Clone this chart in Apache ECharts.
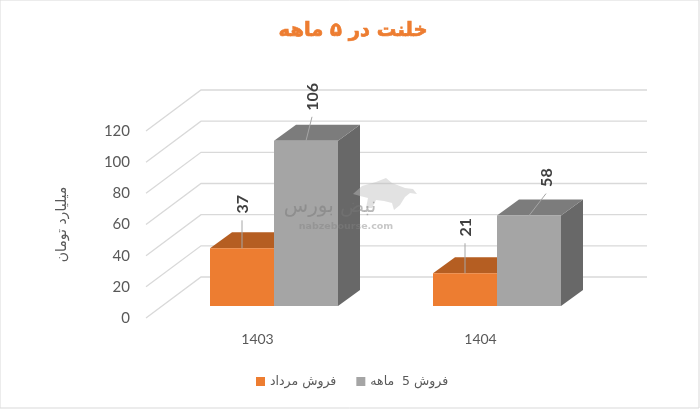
<!DOCTYPE html>
<html><head><meta charset="utf-8">
<style>html,body{margin:0;padding:0;background:#fff}#c{width:700px;height:409px}</style>
<script src="https://cdn.jsdelivr.net/npm/echarts@6/dist/echarts.min.js"></script>
</head><body><div id="c"></div>
<script>
const categories = ['1403', '1404'];
const monthSales = [37, 21];
const fiveMonthSales = [106, 58];
const gridTicks = [0, 20, 40, 60, 80, 100, 120];
const titleText = 'خلنت در ۵ ماهه';
const monthName = 'فروش مرداد';
const fiveMonthName = 'فروش 5  ماهه';
const yName = 'میلیارد تومان';

const BAR_W = 64, BAR_DX = 16, BAR_DY = -12, DEPTH_X = 22, DEPTH_Y = -16;
const WALL_X = 55, WALL_Y = -41, WALL_W = 501;
const LABEL_FONT = 'bold 16px Lato, sans-serif';

function barRender(side, colors, nudges) {
  return function (params, api) {
    const c = api.coord([api.value(0), api.value(1)]);
    const b = api.coord([api.value(0), 0]);
    const x0 = Math.round(c[0] + BAR_DX + (side < 0 ? -BAR_W : 0));
    const x1 = x0 + BAR_W;
    const yT = c[1] + BAR_DY, yB = b[1] + BAR_DY;
    const n = nudges[params.dataIndex];
    const mid = (x0 + x1) / 2;
    return {
      type: 'group',
      children: [
        { type: 'polygon', shape: { points: [[x1, yT], [x1 + DEPTH_X, yT + DEPTH_Y], [x1 + DEPTH_X, yB + DEPTH_Y], [x1, yB]] }, style: { fill: colors.side } },
        { type: 'polygon', shape: { points: [[x0, yT], [x0 + DEPTH_X, yT + DEPTH_Y], [x1 + DEPTH_X, yT + DEPTH_Y], [x1, yT]] }, style: { fill: colors.top } },
        { type: 'rect', shape: { x: x0, y: yT, width: BAR_W, height: yB - yT }, style: { fill: colors.front } },
        { type: 'line', shape: { x1: mid, y1: yT, x2: mid + n.lx, y2: yT + n.ly }, style: { stroke: '#a6a6a6', lineWidth: 1 } },
        { type: 'text', x: mid + n.tx, y: yT + n.ty, rotation: Math.PI / 2, style: { text: String(api.value(1)), font: LABEL_FONT, fill: '#404040', textAlign: 'center', textVerticalAlign: 'middle' } }
      ]
    };
  };
}

function wallRender(params, api) {
  const y = api.coord([0, api.value(0)])[1];
  const x = params.coordSys.x;
  return {
    type: 'polyline',
    shape: { points: [[x, y], [x + WALL_X, y + WALL_Y], [x + WALL_W, y + WALL_Y]] },
    style: { fill: null, stroke: '#d9d9d9', lineWidth: 1.3 },
    silent: true
  };
}

const chart = echarts.init(document.getElementById('c'), null, { renderer: 'canvas' });
chart.setOption({
  animation: false,
  backgroundColor: '#fff',
  title: { text: titleText, left: 348, textAlign: 'center', top: 16,
    textStyle: { color: '#ed7d31', fontSize: 19.5, fontWeight: 'bold', fontFamily: 'DejaVu Sans', textBorderColor: '#ed7d31', textBorderWidth: 0.7 } },
  grid: { left: 146, top: 131, width: 446, height: 187 },
  xAxis: { type: 'category', data: categories, axisLine: { show: false }, axisTick: { show: false },
    axisLabel: { color: '#595959', fontSize: 14, fontFamily: 'Lato', margin: 14 } },
  yAxis: { type: 'value', min: 0, max: 120, interval: 20, splitLine: { show: false }, axisLine: { show: false }, axisTick: { show: false },
    axisLabel: { color: '#595959', fontSize: 15, fontFamily: 'Lato', margin: 16 },
    name: yName, nameLocation: 'middle', nameRotate: 90, nameGap: 77,
    nameTextStyle: { color: '#595959', fontSize: 14, fontFamily: 'DejaVu Sans' } },
  legend: { data: [monthName, fiveMonthName], left: 251, top: 370, icon: 'rect', itemWidth: 9, itemHeight: 9, itemGap: 20,
    textStyle: { color: '#595959', fontSize: 12.5, fontFamily: 'DejaVu Sans' } },
  series: [
    { type: 'custom', name: 'wall', coordinateSystem: 'cartesian2d', data: gridTicks.map(v => [v]), encode: { y: 0 }, renderItem: wallRender, silent: true, z: 1 },
    { type: 'custom', name: monthName, coordinateSystem: 'cartesian2d', itemStyle: { color: '#ed7d31' }, z: 2,
      data: monthSales.map((v, i) => [i, v]), encode: { x: 0, y: 1 },
      renderItem: barRender(-1, { front: '#ed7d31', top: '#b55e22', side: '#a0521d' },
        [{ lx: 0, ly: -28, tx: 1, ty: -44 }, { lx: 0, ly: -30, tx: 1, ty: -46 }]) },
    { type: 'custom', name: fiveMonthName, coordinateSystem: 'cartesian2d', itemStyle: { color: '#a5a5a5' }, z: 3,
      data: fiveMonthSales.map((v, i) => [i, v]), encode: { x: 0, y: 1 },
      renderItem: barRender(1, { front: '#a5a5a5', top: '#7c7c7c', side: '#686868' },
        [{ lx: 6, ly: -24, tx: 6.5, ty: -44 }, { lx: 17, ly: -22, tx: 18, ty: -38 }]) }
  ],
  graphic: [
    { type: 'rect', shape: { x: 0, y: 0, width: 699, height: 408 }, style: { fill: null, stroke: '#d9d9d9', lineWidth: 1 }, silent: true, z: 0 },
    { type: 'polygon', z: 50, silent: true, shape: { points: [[353, 194], [362, 186], [376, 182], [386, 178], [392, 183], [405, 188], [413, 189], [417, 194], [410, 193], [405, 197], [400, 205], [394, 210], [392, 203], [384, 201], [376, 200], [372, 208], [366, 208], [368, 198], [360, 196]] },
      style: { fill: 'rgba(190,190,190,0.45)' } },
    { type: 'text', z: 51, silent: true, x: 330, y: 207, style: { text: 'نبض بورس', font: '20px "DejaVu Sans"', fill: 'rgba(120,120,120,0.5)', textAlign: 'center', textVerticalAlign: 'middle' } },
    { type: 'text', z: 51, silent: true, x: 346, y: 227, style: { text: 'nabzebourse.com', font: 'bold 9.5px "DejaVu Sans"', fill: 'rgba(130,130,130,0.45)', textAlign: 'center', textVerticalAlign: 'middle' } }
  ]
});
</script></body></html>
